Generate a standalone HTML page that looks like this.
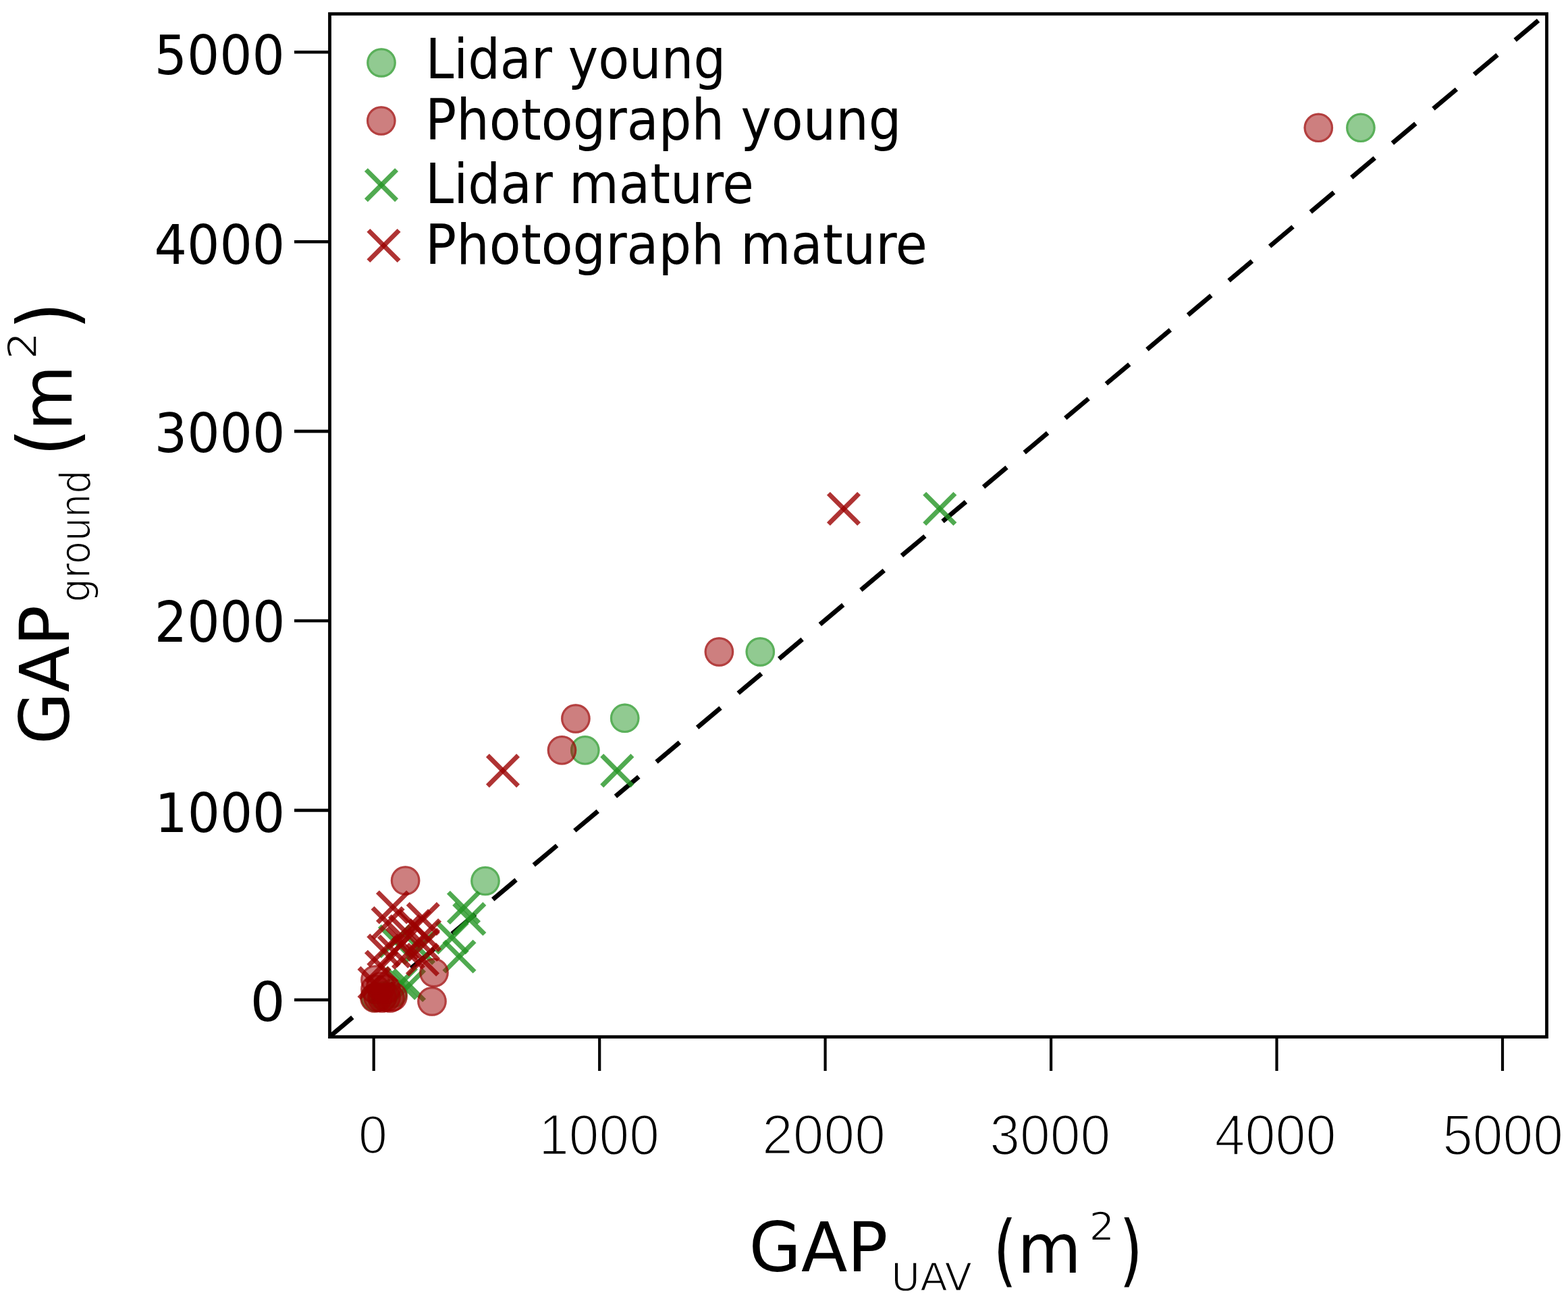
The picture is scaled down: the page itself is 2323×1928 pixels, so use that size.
<!DOCTYPE html>
<html><head><meta charset="utf-8"><title>GAP ground vs GAP UAV</title>
<style>html,body{margin:0;padding:0;background:#fff;width:2323px;height:1928px;overflow:hidden}svg{display:block}</style>
</head><body>
<svg width="2323" height="1928" viewBox="0 0 2323 1928">
<rect width="100%" height="100%" fill="#fff"/>
<rect x="488.5" y="20.6" width="1803.0" height="1516.0" fill="none" stroke="#000" stroke-width="4.8"/>
<line x1="436" y1="1481.8" x2="488.5" y2="1481.8" stroke="#000" stroke-width="4.6"/>
<line x1="553.7" y1="1536.6" x2="553.7" y2="1587" stroke="#000" stroke-width="4.2"/>
<line x1="436" y1="1200.9" x2="488.5" y2="1200.9" stroke="#000" stroke-width="4.6"/>
<line x1="888.2" y1="1536.6" x2="888.2" y2="1587" stroke="#000" stroke-width="4.2"/>
<line x1="436" y1="920.0" x2="488.5" y2="920.0" stroke="#000" stroke-width="4.6"/>
<line x1="1222.6" y1="1536.6" x2="1222.6" y2="1587" stroke="#000" stroke-width="4.2"/>
<line x1="436" y1="639.1" x2="488.5" y2="639.1" stroke="#000" stroke-width="4.6"/>
<line x1="1557.1" y1="1536.6" x2="1557.1" y2="1587" stroke="#000" stroke-width="4.2"/>
<line x1="436" y1="358.2" x2="488.5" y2="358.2" stroke="#000" stroke-width="4.6"/>
<line x1="1891.5" y1="1536.6" x2="1891.5" y2="1587" stroke="#000" stroke-width="4.2"/>
<line x1="436" y1="77.3" x2="488.5" y2="77.3" stroke="#000" stroke-width="4.6"/>
<line x1="2226.0" y1="1536.6" x2="2226.0" y2="1587" stroke="#000" stroke-width="4.2"/>
<defs><clipPath id="pc"><rect x="488.5" y="20.6" width="1803.0" height="1516.0"/></clipPath></defs>
<line x1="487.5" y1="1537.0" x2="2291.0" y2="20.3" stroke="#000" stroke-width="6.8" stroke-dasharray="45 34.15" stroke-dashoffset="-0.5" clip-path="url(#pc)"/>
<g clip-path="url(#pc)">
<circle cx="2015.9" cy="189.3" r="21.8" fill="rgb(36,149,36)" fill-opacity="0.5"/>
<circle cx="2015.9" cy="189.3" r="20.2" fill="none" stroke="rgb(36,149,36)" stroke-opacity="0.5" stroke-width="3.2"/>
<circle cx="1126.3" cy="966.0" r="21.8" fill="rgb(36,149,36)" fill-opacity="0.5"/>
<circle cx="1126.3" cy="966.0" r="20.2" fill="none" stroke="rgb(36,149,36)" stroke-opacity="0.5" stroke-width="3.2"/>
<circle cx="925.7" cy="1064.3" r="21.8" fill="rgb(36,149,36)" fill-opacity="0.5"/>
<circle cx="925.7" cy="1064.3" r="20.2" fill="none" stroke="rgb(36,149,36)" stroke-opacity="0.5" stroke-width="3.2"/>
<circle cx="866.8" cy="1111.8" r="21.8" fill="rgb(36,149,36)" fill-opacity="0.5"/>
<circle cx="866.8" cy="1111.8" r="20.2" fill="none" stroke="rgb(36,149,36)" stroke-opacity="0.5" stroke-width="3.2"/>
<circle cx="719.0" cy="1305.5" r="21.8" fill="rgb(36,149,36)" fill-opacity="0.5"/>
<circle cx="719.0" cy="1305.5" r="20.2" fill="none" stroke="rgb(36,149,36)" stroke-opacity="0.5" stroke-width="3.2"/>
<circle cx="556.0" cy="1478.0" r="21.8" fill="rgb(36,149,36)" fill-opacity="0.5"/>
<circle cx="556.0" cy="1478.0" r="20.2" fill="none" stroke="rgb(36,149,36)" stroke-opacity="0.5" stroke-width="3.2"/>
<circle cx="568.0" cy="1476.0" r="21.8" fill="rgb(36,149,36)" fill-opacity="0.5"/>
<circle cx="568.0" cy="1476.0" r="20.2" fill="none" stroke="rgb(36,149,36)" stroke-opacity="0.5" stroke-width="3.2"/>
<circle cx="582.0" cy="1472.0" r="21.8" fill="rgb(36,149,36)" fill-opacity="0.5"/>
<circle cx="582.0" cy="1472.0" r="20.2" fill="none" stroke="rgb(36,149,36)" stroke-opacity="0.5" stroke-width="3.2"/>
<line x1="1369.7" y1="731.4" x2="1414.9" y2="776.6" stroke="rgb(36,149,36)" stroke-opacity="0.8" stroke-width="7.0"/>
<line x1="1369.7" y1="776.6" x2="1414.9" y2="731.4" stroke="rgb(36,149,36)" stroke-opacity="0.8" stroke-width="7.0"/>
<line x1="891.7" y1="1119.5" x2="936.9" y2="1164.7" stroke="rgb(36,149,36)" stroke-opacity="0.8" stroke-width="7.0"/>
<line x1="891.7" y1="1164.7" x2="936.9" y2="1119.5" stroke="rgb(36,149,36)" stroke-opacity="0.8" stroke-width="7.0"/>
<line x1="664.4" y1="1322.4" x2="709.6" y2="1367.6" stroke="rgb(36,149,36)" stroke-opacity="0.8" stroke-width="7.0"/>
<line x1="664.4" y1="1367.6" x2="709.6" y2="1322.4" stroke="rgb(36,149,36)" stroke-opacity="0.8" stroke-width="7.0"/>
<line x1="672.7" y1="1339.2" x2="717.9" y2="1384.4" stroke="rgb(36,149,36)" stroke-opacity="0.8" stroke-width="7.0"/>
<line x1="672.7" y1="1384.4" x2="717.9" y2="1339.2" stroke="rgb(36,149,36)" stroke-opacity="0.8" stroke-width="7.0"/>
<line x1="647.0" y1="1366.8" x2="692.2" y2="1412.0" stroke="rgb(36,149,36)" stroke-opacity="0.8" stroke-width="7.0"/>
<line x1="647.0" y1="1412.0" x2="692.2" y2="1366.8" stroke="rgb(36,149,36)" stroke-opacity="0.8" stroke-width="7.0"/>
<line x1="657.9" y1="1394.9" x2="703.1" y2="1440.1" stroke="rgb(36,149,36)" stroke-opacity="0.8" stroke-width="7.0"/>
<line x1="657.9" y1="1440.1" x2="703.1" y2="1394.9" stroke="rgb(36,149,36)" stroke-opacity="0.8" stroke-width="7.0"/>
<line x1="562.4" y1="1372.4" x2="607.6" y2="1417.6" stroke="rgb(36,149,36)" stroke-opacity="0.8" stroke-width="7.0"/>
<line x1="562.4" y1="1417.6" x2="607.6" y2="1372.4" stroke="rgb(36,149,36)" stroke-opacity="0.8" stroke-width="7.0"/>
<line x1="597.4" y1="1382.4" x2="642.6" y2="1427.6" stroke="rgb(36,149,36)" stroke-opacity="0.8" stroke-width="7.0"/>
<line x1="597.4" y1="1427.6" x2="642.6" y2="1382.4" stroke="rgb(36,149,36)" stroke-opacity="0.8" stroke-width="7.0"/>
<line x1="571.4" y1="1434.4" x2="616.6" y2="1479.6" stroke="rgb(36,149,36)" stroke-opacity="0.8" stroke-width="7.0"/>
<line x1="571.4" y1="1479.6" x2="616.6" y2="1434.4" stroke="rgb(36,149,36)" stroke-opacity="0.8" stroke-width="7.0"/>
<line x1="583.4" y1="1437.4" x2="628.6" y2="1482.6" stroke="rgb(36,149,36)" stroke-opacity="0.8" stroke-width="7.0"/>
<line x1="583.4" y1="1482.6" x2="628.6" y2="1437.4" stroke="rgb(36,149,36)" stroke-opacity="0.8" stroke-width="7.0"/>
<circle cx="1953.3" cy="189.3" r="21.8" fill="rgb(155,0,0)" fill-opacity="0.5"/>
<circle cx="1953.3" cy="189.3" r="20.2" fill="none" stroke="rgb(155,0,0)" stroke-opacity="0.5" stroke-width="3.2"/>
<circle cx="1065.4" cy="966.0" r="21.8" fill="rgb(155,0,0)" fill-opacity="0.5"/>
<circle cx="1065.4" cy="966.0" r="20.2" fill="none" stroke="rgb(155,0,0)" stroke-opacity="0.5" stroke-width="3.2"/>
<circle cx="852.9" cy="1065.0" r="21.8" fill="rgb(155,0,0)" fill-opacity="0.5"/>
<circle cx="852.9" cy="1065.0" r="20.2" fill="none" stroke="rgb(155,0,0)" stroke-opacity="0.5" stroke-width="3.2"/>
<circle cx="832.5" cy="1111.8" r="21.8" fill="rgb(155,0,0)" fill-opacity="0.5"/>
<circle cx="832.5" cy="1111.8" r="20.2" fill="none" stroke="rgb(155,0,0)" stroke-opacity="0.5" stroke-width="3.2"/>
<circle cx="600.6" cy="1305.0" r="21.8" fill="rgb(155,0,0)" fill-opacity="0.5"/>
<circle cx="600.6" cy="1305.0" r="20.2" fill="none" stroke="rgb(155,0,0)" stroke-opacity="0.5" stroke-width="3.2"/>
<circle cx="640.0" cy="1484.0" r="21.8" fill="rgb(155,0,0)" fill-opacity="0.5"/>
<circle cx="640.0" cy="1484.0" r="20.2" fill="none" stroke="rgb(155,0,0)" stroke-opacity="0.5" stroke-width="3.2"/>
<circle cx="643.0" cy="1441.5" r="21.8" fill="rgb(155,0,0)" fill-opacity="0.5"/>
<circle cx="643.0" cy="1441.5" r="20.2" fill="none" stroke="rgb(155,0,0)" stroke-opacity="0.5" stroke-width="3.2"/>
<circle cx="555.0" cy="1479.0" r="21.8" fill="rgb(155,0,0)" fill-opacity="0.5"/>
<circle cx="555.0" cy="1479.0" r="20.2" fill="none" stroke="rgb(155,0,0)" stroke-opacity="0.5" stroke-width="3.2"/>
<circle cx="560.0" cy="1478.0" r="21.8" fill="rgb(155,0,0)" fill-opacity="0.5"/>
<circle cx="560.0" cy="1478.0" r="20.2" fill="none" stroke="rgb(155,0,0)" stroke-opacity="0.5" stroke-width="3.2"/>
<circle cx="566.0" cy="1479.0" r="21.8" fill="rgb(155,0,0)" fill-opacity="0.5"/>
<circle cx="566.0" cy="1479.0" r="20.2" fill="none" stroke="rgb(155,0,0)" stroke-opacity="0.5" stroke-width="3.2"/>
<circle cx="572.0" cy="1478.0" r="21.8" fill="rgb(155,0,0)" fill-opacity="0.5"/>
<circle cx="572.0" cy="1478.0" r="20.2" fill="none" stroke="rgb(155,0,0)" stroke-opacity="0.5" stroke-width="3.2"/>
<circle cx="578.0" cy="1479.0" r="21.8" fill="rgb(155,0,0)" fill-opacity="0.5"/>
<circle cx="578.0" cy="1479.0" r="20.2" fill="none" stroke="rgb(155,0,0)" stroke-opacity="0.5" stroke-width="3.2"/>
<circle cx="582.0" cy="1477.0" r="21.8" fill="rgb(155,0,0)" fill-opacity="0.5"/>
<circle cx="582.0" cy="1477.0" r="20.2" fill="none" stroke="rgb(155,0,0)" stroke-opacity="0.5" stroke-width="3.2"/>
<circle cx="556.0" cy="1466.0" r="21.8" fill="rgb(155,0,0)" fill-opacity="0.5"/>
<circle cx="556.0" cy="1466.0" r="20.2" fill="none" stroke="rgb(155,0,0)" stroke-opacity="0.5" stroke-width="3.2"/>
<circle cx="564.0" cy="1462.0" r="21.8" fill="rgb(155,0,0)" fill-opacity="0.5"/>
<circle cx="564.0" cy="1462.0" r="20.2" fill="none" stroke="rgb(155,0,0)" stroke-opacity="0.5" stroke-width="3.2"/>
<circle cx="572.0" cy="1466.0" r="21.8" fill="rgb(155,0,0)" fill-opacity="0.5"/>
<circle cx="572.0" cy="1466.0" r="20.2" fill="none" stroke="rgb(155,0,0)" stroke-opacity="0.5" stroke-width="3.2"/>
<circle cx="556.0" cy="1452.0" r="21.8" fill="rgb(155,0,0)" fill-opacity="0.5"/>
<circle cx="556.0" cy="1452.0" r="20.2" fill="none" stroke="rgb(155,0,0)" stroke-opacity="0.5" stroke-width="3.2"/>
<line x1="1227.4" y1="731.4" x2="1272.6" y2="776.6" stroke="rgb(155,0,0)" stroke-opacity="0.8" stroke-width="7.0"/>
<line x1="1227.4" y1="776.6" x2="1272.6" y2="731.4" stroke="rgb(155,0,0)" stroke-opacity="0.8" stroke-width="7.0"/>
<line x1="722.4" y1="1119.5" x2="767.6" y2="1164.7" stroke="rgb(155,0,0)" stroke-opacity="0.8" stroke-width="7.0"/>
<line x1="722.4" y1="1164.7" x2="767.6" y2="1119.5" stroke="rgb(155,0,0)" stroke-opacity="0.8" stroke-width="7.0"/>
<line x1="559.4" y1="1321.9" x2="604.6" y2="1367.1" stroke="rgb(155,0,0)" stroke-opacity="0.8" stroke-width="7.0"/>
<line x1="559.4" y1="1367.1" x2="604.6" y2="1321.9" stroke="rgb(155,0,0)" stroke-opacity="0.8" stroke-width="7.0"/>
<line x1="552.0" y1="1345.4" x2="597.2" y2="1390.6" stroke="rgb(155,0,0)" stroke-opacity="0.8" stroke-width="7.0"/>
<line x1="552.0" y1="1390.6" x2="597.2" y2="1345.4" stroke="rgb(155,0,0)" stroke-opacity="0.8" stroke-width="7.0"/>
<line x1="604.2" y1="1339.2" x2="649.4" y2="1384.4" stroke="rgb(155,0,0)" stroke-opacity="0.8" stroke-width="7.0"/>
<line x1="604.2" y1="1384.4" x2="649.4" y2="1339.2" stroke="rgb(155,0,0)" stroke-opacity="0.8" stroke-width="7.0"/>
<line x1="545.8" y1="1386.0" x2="591.0" y2="1431.2" stroke="rgb(155,0,0)" stroke-opacity="0.8" stroke-width="7.0"/>
<line x1="545.8" y1="1431.2" x2="591.0" y2="1386.0" stroke="rgb(155,0,0)" stroke-opacity="0.8" stroke-width="7.0"/>
<line x1="542.4" y1="1410.1" x2="587.6" y2="1455.3" stroke="rgb(155,0,0)" stroke-opacity="0.8" stroke-width="7.0"/>
<line x1="542.4" y1="1455.3" x2="587.6" y2="1410.1" stroke="rgb(155,0,0)" stroke-opacity="0.8" stroke-width="7.0"/>
<line x1="532.0" y1="1434.2" x2="577.2" y2="1479.4" stroke="rgb(155,0,0)" stroke-opacity="0.8" stroke-width="7.0"/>
<line x1="532.0" y1="1479.4" x2="577.2" y2="1434.2" stroke="rgb(155,0,0)" stroke-opacity="0.8" stroke-width="7.0"/>
<line x1="604.4" y1="1377.4" x2="649.6" y2="1422.6" stroke="rgb(155,0,0)" stroke-opacity="0.8" stroke-width="7.0"/>
<line x1="604.4" y1="1422.6" x2="649.6" y2="1377.4" stroke="rgb(155,0,0)" stroke-opacity="0.8" stroke-width="7.0"/>
<line x1="577.4" y1="1357.4" x2="622.6" y2="1402.6" stroke="rgb(155,0,0)" stroke-opacity="0.8" stroke-width="7.0"/>
<line x1="577.4" y1="1402.6" x2="622.6" y2="1357.4" stroke="rgb(155,0,0)" stroke-opacity="0.8" stroke-width="7.0"/>
<line x1="582.4" y1="1389.4" x2="627.6" y2="1434.6" stroke="rgb(155,0,0)" stroke-opacity="0.8" stroke-width="7.0"/>
<line x1="582.4" y1="1434.6" x2="627.6" y2="1389.4" stroke="rgb(155,0,0)" stroke-opacity="0.8" stroke-width="7.0"/>
<line x1="591.4" y1="1349.4" x2="636.6" y2="1394.6" stroke="rgb(155,0,0)" stroke-opacity="0.8" stroke-width="7.0"/>
<line x1="591.4" y1="1394.6" x2="636.6" y2="1349.4" stroke="rgb(155,0,0)" stroke-opacity="0.8" stroke-width="7.0"/>
<line x1="606.4" y1="1363.4" x2="651.6" y2="1408.6" stroke="rgb(155,0,0)" stroke-opacity="0.8" stroke-width="7.0"/>
<line x1="606.4" y1="1408.6" x2="651.6" y2="1363.4" stroke="rgb(155,0,0)" stroke-opacity="0.8" stroke-width="7.0"/>
<line x1="573.4" y1="1375.4" x2="618.6" y2="1420.6" stroke="rgb(155,0,0)" stroke-opacity="0.8" stroke-width="7.0"/>
<line x1="573.4" y1="1420.6" x2="618.6" y2="1375.4" stroke="rgb(155,0,0)" stroke-opacity="0.8" stroke-width="7.0"/>
<line x1="603.4" y1="1399.4" x2="648.6" y2="1444.6" stroke="rgb(155,0,0)" stroke-opacity="0.8" stroke-width="7.0"/>
<line x1="603.4" y1="1444.6" x2="648.6" y2="1399.4" stroke="rgb(155,0,0)" stroke-opacity="0.8" stroke-width="7.0"/>
<line x1="561.4" y1="1387.4" x2="606.6" y2="1432.6" stroke="rgb(155,0,0)" stroke-opacity="0.8" stroke-width="7.0"/>
<line x1="561.4" y1="1432.6" x2="606.6" y2="1387.4" stroke="rgb(155,0,0)" stroke-opacity="0.8" stroke-width="7.0"/>
</g>
<circle cx="565.0" cy="93.0" r="21.8" fill="rgb(36,149,36)" fill-opacity="0.5"/>
<circle cx="565.0" cy="93.0" r="20.2" fill="none" stroke="rgb(36,149,36)" stroke-opacity="0.5" stroke-width="3.2"/>
<circle cx="564.8" cy="179.0" r="21.8" fill="rgb(155,0,0)" fill-opacity="0.5"/>
<circle cx="564.8" cy="179.0" r="20.2" fill="none" stroke="rgb(155,0,0)" stroke-opacity="0.5" stroke-width="3.2"/>
<line x1="542.4" y1="251.6" x2="587.6" y2="296.8" stroke="rgb(36,149,36)" stroke-opacity="0.8" stroke-width="7.0"/>
<line x1="542.4" y1="296.8" x2="587.6" y2="251.6" stroke="rgb(36,149,36)" stroke-opacity="0.8" stroke-width="7.0"/>
<line x1="545.9" y1="341.4" x2="591.1" y2="386.6" stroke="rgb(155,0,0)" stroke-opacity="0.8" stroke-width="7.0"/>
<line x1="545.9" y1="386.6" x2="591.1" y2="341.4" stroke="rgb(155,0,0)" stroke-opacity="0.8" stroke-width="7.0"/>
<text transform="translate(630.38,116.00) scale(0.8357,0.8211)" font-size="100" style="font-family:'DejaVu Sans Condensed','DejaVu Sans','Liberation Sans',sans-serif;font-stretch:condensed" >Lidar young</text>
<text transform="translate(630.03,207.00) scale(0.8522,0.8342)" font-size="100" style="font-family:'DejaVu Sans Condensed','DejaVu Sans','Liberation Sans',sans-serif;font-stretch:condensed" >Photograph young</text>
<text transform="translate(630.12,300.50) scale(0.8420,0.8276)" font-size="100" style="font-family:'DejaVu Sans Condensed','DejaVu Sans','Liberation Sans',sans-serif;font-stretch:condensed" >Lidar mature</text>
<text transform="translate(630.04,391.00) scale(0.8515,0.8250)" font-size="100" style="font-family:'DejaVu Sans Condensed','DejaVu Sans','Liberation Sans',sans-serif;font-stretch:condensed" >Photograph mature</text>
<text transform="translate(228.80,109.90) scale(0.8426,0.7987)" font-size="100" style="font-family:'DejaVu Sans Condensed','DejaVu Sans','Liberation Sans',sans-serif;font-stretch:condensed" >5000</text>
<text transform="translate(228.62,391.20) scale(0.8461,0.7987)" font-size="100" style="font-family:'DejaVu Sans Condensed','DejaVu Sans','Liberation Sans',sans-serif;font-stretch:condensed" >4000</text>
<text transform="translate(228.78,669.90) scale(0.8454,0.7987)" font-size="100" style="font-family:'DejaVu Sans Condensed','DejaVu Sans','Liberation Sans',sans-serif;font-stretch:condensed" >3000</text>
<text transform="translate(228.78,951.17) scale(0.8454,0.8329)" font-size="100" style="font-family:'DejaVu Sans Condensed','DejaVu Sans','Liberation Sans',sans-serif;font-stretch:condensed" >2000</text>
<text transform="translate(229.58,1232.50) scale(0.8418,0.7974)" font-size="100" style="font-family:'DejaVu Sans Condensed','DejaVu Sans','Liberation Sans',sans-serif;font-stretch:condensed" >1000</text>
<text transform="translate(370.53,1513.20) scale(0.9111,0.8026)" font-size="100" style="font-family:'DejaVu Sans Condensed','DejaVu Sans','Liberation Sans',sans-serif;font-stretch:condensed" >0</text>
<text transform="translate(530.92,1709.20) scale(0.7708,0.8028)" font-size="100" style="font-family:'Liberation Sans',sans-serif" stroke="#fff" stroke-width="3.0" paint-order="fill">0</text>
<text transform="translate(798.17,1710.85) scale(0.8033,0.8479)" font-size="100" style="font-family:'Liberation Sans',sans-serif" stroke="#fff" stroke-width="3.0" paint-order="fill">1000</text>
<text transform="translate(1129.09,1710.17) scale(0.8216,0.8310)" font-size="100" style="font-family:'Liberation Sans',sans-serif" stroke="#fff" stroke-width="3.0" paint-order="fill">2000</text>
<text transform="translate(1466.18,1710.85) scale(0.8051,0.8479)" font-size="100" style="font-family:'Liberation Sans',sans-serif" stroke="#fff" stroke-width="3.0" paint-order="fill">3000</text>
<text transform="translate(1799.38,1710.85) scale(0.8097,0.8479)" font-size="100" style="font-family:'Liberation Sans',sans-serif" stroke="#fff" stroke-width="3.0" paint-order="fill">4000</text>
<text transform="translate(2137.19,1710.85) scale(0.8033,0.8549)" font-size="100" style="font-family:'Liberation Sans',sans-serif" stroke="#fff" stroke-width="3.0" paint-order="fill">5000</text>
<text transform="translate(1109.45,1883.78) scale(1.1107,1.0237)" font-size="100" style="font-family:'DejaVu Sans Condensed','DejaVu Sans','Liberation Sans',sans-serif;font-stretch:condensed" >GAP</text>
<text transform="translate(1320.04,1913.12) scale(0.6569,0.5770)" font-size="100" style="font-family:'DejaVu Sans Condensed','DejaVu Sans','Liberation Sans',sans-serif;font-stretch:condensed" stroke="#fff" stroke-width="2.6">UAV</text>
<text transform="translate(1471.42,1892.47) scale(0.9850,1.1640)" font-size="100" style="font-family:'DejaVu Sans Condensed','DejaVu Sans','Liberation Sans',sans-serif;font-stretch:condensed" >(</text>
<text transform="translate(1507.16,1885.50) scale(1.0806,1.0196)" font-size="100" style="font-family:'DejaVu Sans Condensed','DejaVu Sans','Liberation Sans',sans-serif;font-stretch:condensed" >m</text>
<text transform="translate(1613.32,1837.50) scale(0.6683,0.5757)" font-size="100" style="font-family:'DejaVu Sans Condensed','DejaVu Sans','Liberation Sans',sans-serif;font-stretch:condensed" stroke="#fff" stroke-width="2.6">2</text>
<text transform="translate(1658.27,1892.47) scale(0.9900,1.1640)" font-size="100" style="font-family:'DejaVu Sans Condensed','DejaVu Sans','Liberation Sans',sans-serif;font-stretch:condensed" >)</text>
<text transform="rotate(-90) translate(-1103.26,102.49) scale(1.1124,1.0132)" font-size="100" style="font-family:'DejaVu Sans Condensed','DejaVu Sans','Liberation Sans',sans-serif;font-stretch:condensed" >GAP</text>
<text transform="rotate(-90) translate(-892.58,132.50) scale(0.6164,0.6145)" font-size="100" style="font-family:'DejaVu Sans Condensed','DejaVu Sans','Liberation Sans',sans-serif;font-stretch:condensed" stroke="#fff" stroke-width="2.6">ground</text>
<text transform="rotate(-90) translate(-675.98,110.65) scale(1.1600,1.1809)" font-size="100" style="font-family:'DejaVu Sans Condensed','DejaVu Sans','Liberation Sans',sans-serif;font-stretch:condensed" >(</text>
<text transform="rotate(-90) translate(-638.27,105.90) scale(1.1083,1.0393)" font-size="100" style="font-family:'DejaVu Sans Condensed','DejaVu Sans','Liberation Sans',sans-serif;font-stretch:condensed" >m</text>
<text transform="rotate(-90) translate(-533.09,54.40) scale(0.7268,0.5838)" font-size="100" style="font-family:'DejaVu Sans Condensed','DejaVu Sans','Liberation Sans',sans-serif;font-stretch:condensed" stroke="#fff" stroke-width="2.6">2</text>
<text transform="rotate(-90) translate(-488.42,110.65) scale(1.1600,1.1809)" font-size="100" style="font-family:'DejaVu Sans Condensed','DejaVu Sans','Liberation Sans',sans-serif;font-stretch:condensed" >)</text>
</svg>
</body></html>
